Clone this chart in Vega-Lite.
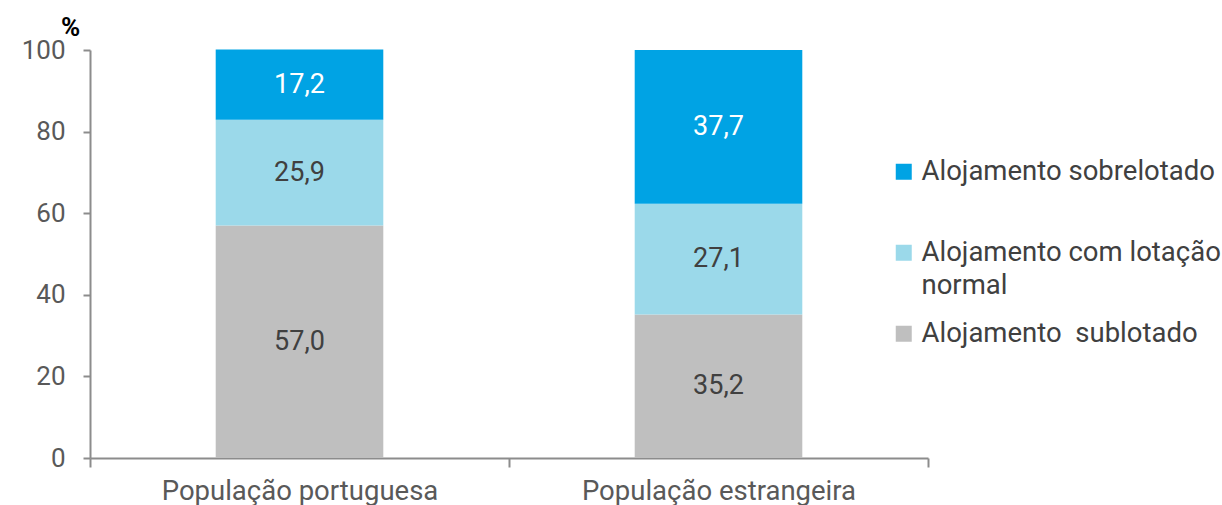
{
  "$schema": "https://vega.github.io/schema/vega-lite/v6.json",
  "width": 838,
  "height": 408,
  "autosize": "none",
  "padding": {"left": 90, "top": 50, "right": 294, "bottom": 47},
  "background": "white",
  "config": {
    "font": "Roboto",
    "view": {"stroke": null},
    "locale": {"number": {"decimal": ",", "thousands": ".", "grouping": [3], "currency": ["", " €"]}},
    "style": {"guide-label": {"lineHeight": 33}},
    "axisY": {"titleFontSize": 26, "titleFontWeight": "bold", "titleColor": "#000000"}
  },
  "data": {
    "values": [
      {"pop": "População portuguesa", "cat": "Alojamento  sublotado", "ord": 1, "value": 57.0},
      {"pop": "População portuguesa", "cat": "Alojamento com lotação normal", "ord": 2, "value": 25.9},
      {"pop": "População portuguesa", "cat": "Alojamento sobrelotado", "ord": 3, "value": 17.2},
      {"pop": "População estrangeira", "cat": "Alojamento  sublotado", "ord": 1, "value": 35.2},
      {"pop": "População estrangeira", "cat": "Alojamento com lotação normal", "ord": 2, "value": 27.1},
      {"pop": "População estrangeira", "cat": "Alojamento sobrelotado", "ord": 3, "value": 37.7}
    ]
  },
  "encoding": {
    "x": {
      "field": "pop", "type": "nominal", "sort": null,
      "scale": {"paddingInner": 0, "paddingOuter": 0},
      "axis": {
        "title": null, "labelAngle": 0, "tickBand": "extent", "labelLimit": 500,
        "labelFontSize": 27.5, "labelColor": "#595959", "labelPadding": 10,
        "domainColor": "#8c8c8c", "domainWidth": 2, "tickColor": "#8c8c8c", "tickWidth": 2, "tickSize": 9
      }
    },
    "y": {
      "field": "value", "type": "quantitative", "stack": "zero",
      "scale": {"domain": [0, 100]},
      "axis": {
        "values": [0, 20, 40, 60, 80, 100], "grid": false,
        "title": "%", "titleAngle": 0, "titleAlign": "center", "titleBaseline": "alphabetic",
        "titleX": -20, "titleY": -15, "titleFontSize": 26, "titleFontWeight": "bold", "titleColor": "#000000",
        "labelFontSize": 26, "labelColor": "#595959", "labelPadding": 18,
        "domainColor": "#8c8c8c", "domainWidth": 2, "tickColor": "#8c8c8c", "tickWidth": 2, "tickSize": 7
      }
    },
    "order": {"field": "ord", "type": "quantitative"}
  },
  "layer": [
    {
      "mark": {"type": "bar", "width": {"band": 0.4}},
      "encoding": {
        "color": {
          "field": "cat", "type": "nominal",
          "scale": {
            "domain": ["Alojamento sobrelotado", "Alojamento com lotação normal", "Alojamento  sublotado"],
            "range": ["#00a3e4", "#9bd9ea", "#bfbfbf"]
          },
          "legend": {
            "title": null, "orient": "none", "legendX": 800, "legendY": 108,
            "padding": 0, "symbolType": "square", "symbolSize": 256, "symbolStrokeWidth": 0,
            "labelFontSize": 27.5, "labelColor": "#404040", "labelOffset": 4, "labelLimit": 400,
            "rowPadding": 19, "gridAlign": "all",
            "labelExpr": "datum.label == 'Alojamento com lotação normal' ? ['Alojamento com lotação', 'normal'] : replace(datum.label, '  ', ' \u00a0')"
          }
        }
      }
    },
    {
      "mark": {"type": "text", "fontSize": 27},
      "encoding": {
        "y": {"field": "value", "type": "quantitative", "stack": "zero", "bandPosition": 0.5},
        "text": {"field": "value", "type": "quantitative", "format": ".1f", "formatType": "number"},
        "color": {
          "condition": {"test": "datum.ord == 3", "value": "#ffffff"},
          "value": "#404040"
        }
      }
    }
  ]
}
